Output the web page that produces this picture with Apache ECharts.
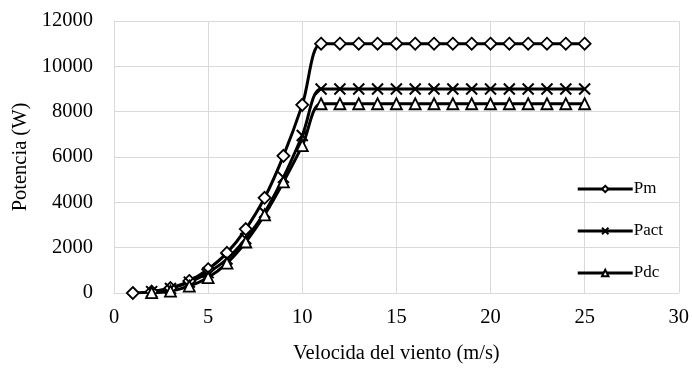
<!DOCTYPE html>
<html>
<head>
<meta charset="utf-8">
<script src="https://cdn.jsdelivr.net/npm/echarts@6/dist/echarts.min.js"></script>
<style>html,body{margin:0;padding:0;background:#fff}#c{width:692px;height:369px}</style>
</head>
<body>
<div id="c"></div>
<script>
var speedPm = [1,2,3,4,5,6,7,8,9,10,11,12,13,14,15,16,17,18,19,20,21,22,23,24,25];
var valuesPm = [0,60,220,530,1050,1770,2820,4200,6050,8300,11000,11000,11000,11000,11000,11000,11000,11000,11000,11000,11000,11000,11000,11000,11000];
var speedP = [2,3,4,5,6,7,8,9,10,11,12,13,14,15,16,17,18,19,20,21,22,23,24,25];
var valuesPact = [60,200,480,900,1500,2400,3550,5100,6950,9000,9000,9000,9000,9000,9000,9000,9000,9000,9000,9000,9000,9000,9000,9000];
var valuesPdc = [20,80,300,680,1320,2250,3450,4900,6500,8350,8350,8350,8350,8350,8350,8350,8350,8350,8350,8350,8350,8350,8350,8350];
var seriesNames = ['Pm','Pact','Pdc'];
var xTitle = 'Velocida del viento (m/s)';
var yTitle = 'Potencia (W)';

function pairs(xs, ys){ return xs.map(function(x,i){return [x, ys[i]];}); }
var FONT = '"Liberation Serif", "Times New Roman", serif';
var grayLine = {lineStyle:{color:'#d9d9d9', width:1}};
var crossPath = 'path://M0,0L10,10M10,0L0,10';

function mk(name, data, symbol, size){
  return {
    name: name, type: 'line', data: data, smooth: 0.35,
    symbol: symbol, symbolSize: size,
    lineStyle: {color:'#000', width: 3},
    itemStyle: {color:'#fff', borderColor:'#000', borderWidth: 1.8},
    z: 3
  };
}

var chart = echarts.init(document.getElementById('c'));
var sPact = mk('Pact', pairs(speedP, valuesPact), crossPath, 11);
sPact.itemStyle = {color:'#000', borderColor:'#000', borderWidth: 2};
chart.setOption({
  animation: false,
  textStyle: {fontFamily: FONT},
  grid: {left: 114, right: 11, top: 21, bottom: 71},
  legend: {
    orient: 'vertical', right: 24, top: 175, itemGap: 24,
    itemWidth: 55, itemHeight: 8,
    lineStyle: {width: 3, color: '#000'},
    data: seriesNames,
    textStyle: {fontFamily: FONT, fontSize: 17, lineHeight: 18, color:'#000', padding:[0,0,0,-4]}
  },
  xAxis: {
    type: 'value', min: 0, max: 30, interval: 5,
    name: xTitle, nameLocation: 'middle', nameGap: 50,
    nameTextStyle: {fontFamily: FONT, fontSize: 20.5, color:'#000'},
    axisLine: grayLine, axisTick: {show:false}, splitLine: grayLine,
    axisLabel: {fontFamily: FONT, fontSize: 20.5, color:'#000', margin: 14}
  },
  yAxis: {
    type: 'value', min: 0, max: 12000, interval: 2000,
    name: yTitle, nameLocation: 'middle', nameGap: 83, nameRotate: 90,
    nameTextStyle: {fontFamily: FONT, fontSize: 20.5, color:'#000'},
    axisLine: Object.assign({show:true}, grayLine), axisTick: {show:false}, splitLine: grayLine,
    axisLabel: {fontFamily: FONT, fontSize: 20.5, color:'#000', margin: 21,
      formatter: function(v){ return String(v); }}
  },
  series: [
    mk('Pm', pairs(speedPm, valuesPm), 'diamond', 12),
    sPact,
    mk('Pdc', pairs(speedP, valuesPdc), 'triangle', 11)
  ]
});
</script>
</body>
</html>
